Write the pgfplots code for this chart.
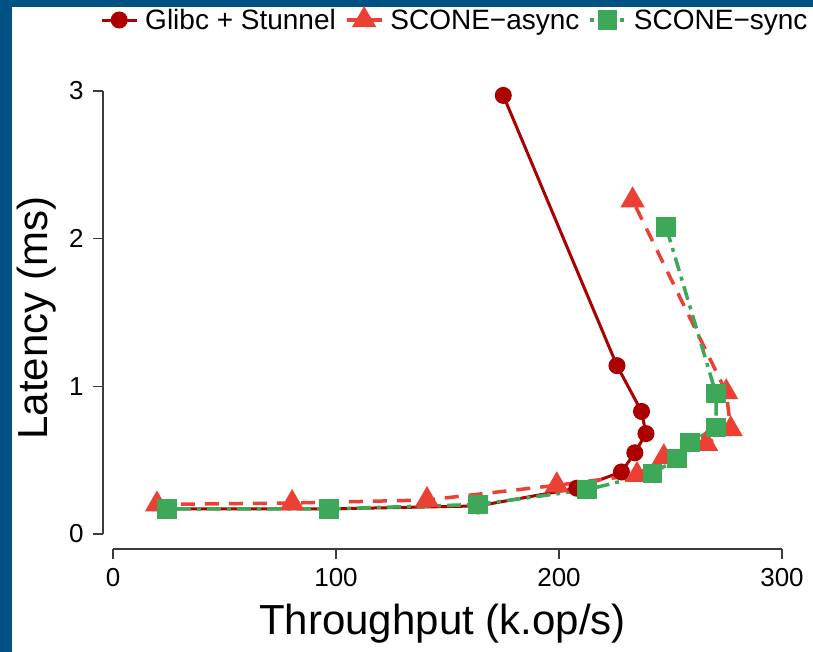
\documentclass[border=0pt]{standalone}
\usepackage{fontspec}
\setmainfont{Liberation Sans}
\usepackage{pgfplots}
\pgfplotsset{compat=1.18}
\definecolor{frameblue}{RGB}{0,82,130}
\definecolor{glibc}{RGB}{172,0,0}
\definecolor{async}{RGB}{236,64,52}
\definecolor{sync}{RGB}{60,168,88}
\definecolor{axisgray}{RGB}{60,60,60}

\begin{document}
\begin{tikzpicture}[x=1pt,y=1pt]
\path[use as bounding box, fill=frameblue] (0,0) rectangle (813,652);
\fill[white] (12,0) rectangle (813,645);
\begin{axis}[
  at={(103pt,103pt)}, anchor=south west,
  scale only axis, width=679pt, height=458pt,
  xmin=-4.5, xmax=300, ymin=-0.1016, ymax=3,
  axis x line*=bottom, axis y line*=left,
  axis line style={draw=none},
  clip=false,
  xtick={0,100,200,300}, ytick={0,1,2,3},
  tick align=outside, major tick length=10pt,
  tick style={line width=1.2pt, axisgray},
  /pgf/number format/assume math mode=true,
  ticklabel style={font=\fontsize{26}{30}\selectfont},
  xticklabel style={yshift=-6pt},
  yticklabel style={xshift=-6pt},
  xlabel={Throughput (k.op/s)},
  ylabel={Latency (ms)},
  every axis x label/.style={at={(axis description cs:0.5,-0.164)}, anchor=center, font=\fontsize{42}{48}\selectfont},
  every axis y label/.style={at={(axis description cs:-0.098,0.504)}, rotate=90, anchor=center, font=\fontsize{42}{48}\selectfont},
  legend columns=3,
  legend style={draw=none, fill=none, at={(axis description cs:-0.0044,1.155)}, anchor=west,
    font=\fontsize{28}{32}\selectfont, inner sep=0pt,
    /tikz/every odd column/.append style={column sep=5pt},
    /tikz/every even column/.append style={column sep=7pt}},
  legend image code/.code={\draw[#1, mark repeat=2, mark phase=2] plot coordinates {(0pt,0pt) (17.5pt,0pt) (35pt,0pt)};},
]
% detached axis lines in the usual base-graphics style
\draw[line width=1.2pt, axisgray] (axis cs:0,-0.1016) -- (axis cs:300,-0.1016);
\draw[line width=1.2pt, axisgray] (axis cs:-4.5,0) -- (axis cs:-4.5,3);

\addplot[glibc, line width=3pt, mark=*, mark size=7pt] coordinates {
  (24.2,0.17) (96.9,0.17) (163.7,0.19) (208,0.31) (228,0.42) (234,0.55)
  (239,0.68) (237,0.83) (226,1.14) (175,2.97)
};
\addlegendentry{Glibc + Stunnel}

\addplot[async, line width=3.5pt, dash pattern=on 14pt off 10pt, mark=triangle*, mark size=10.5pt, mark options={solid}] coordinates {
  (19.7,0.20) (80.3,0.21) (140.8,0.23) (199,0.33) (235,0.40) (247,0.52)
  (266,0.61) (277,0.71) (275,0.96) (233,2.26)
};
\addlegendentry{SCONE−async}

\addplot[sync, line width=3.5pt, dash pattern=on 4pt off 6pt on 14pt off 6pt, mark=square*, mark size=8pt, mark options={solid}] coordinates {
  (24.2,0.17) (96.9,0.17) (163.7,0.20) (212.6,0.30) (242,0.41) (253,0.51)
  (258.7,0.62) (270.4,0.72) (270.4,0.95) (248,2.08)
};
\addlegendentry{SCONE−sync}
\end{axis}
\end{tikzpicture}
\end{document}
